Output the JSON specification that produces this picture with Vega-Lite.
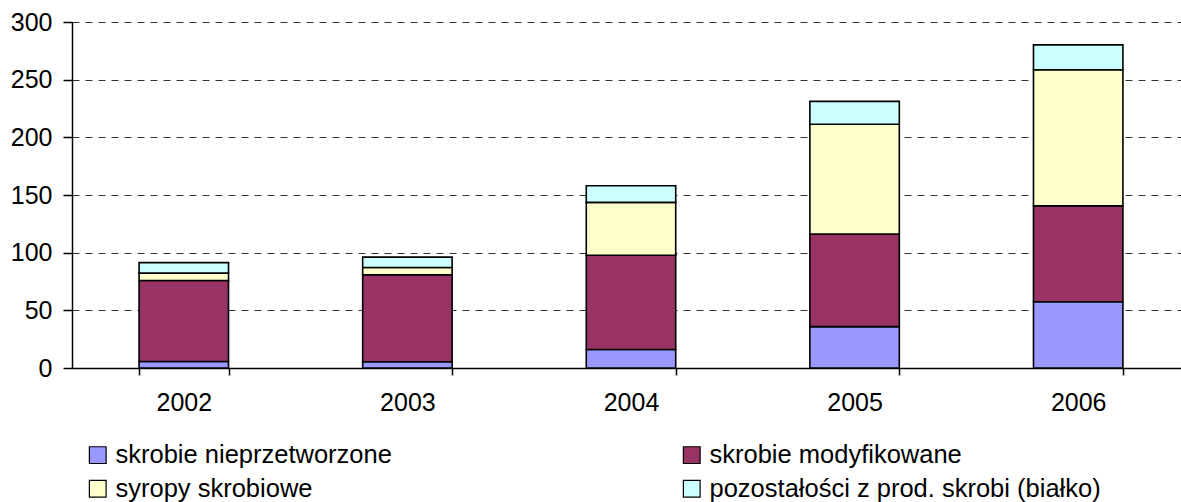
{
  "$schema": "https://vega.github.io/schema/vega-lite/v6.json",
  "width": 1109,
  "height": 346,
  "autosize": "none",
  "padding": {"left": 72, "top": 22, "right": 0, "bottom": 134},
  "background": "white",
  "config": {
    "view": {"stroke": null},
    "font": "Liberation Sans"
  },
  "data": {
    "values": [
      {"rok": "2002", "kategoria": "skrobie nieprzetworzone", "k": 1, "wartosc": 5.6},
      {"rok": "2002", "kategoria": "skrobie modyfikowane", "k": 2, "wartosc": 70.3},
      {"rok": "2002", "kategoria": "syropy skrobiowe", "k": 3, "wartosc": 6.4},
      {"rok": "2002", "kategoria": "pozostałości z prod. skrobi (białko)", "k": 4, "wartosc": 9.1},
      {"rok": "2003", "kategoria": "skrobie nieprzetworzone", "k": 1, "wartosc": 5.4},
      {"rok": "2003", "kategoria": "skrobie modyfikowane", "k": 2, "wartosc": 75.4},
      {"rok": "2003", "kategoria": "syropy skrobiowe", "k": 3, "wartosc": 6.3},
      {"rok": "2003", "kategoria": "pozostałości z prod. skrobi (białko)", "k": 4, "wartosc": 9.0},
      {"rok": "2004", "kategoria": "skrobie nieprzetworzone", "k": 1, "wartosc": 16.0},
      {"rok": "2004", "kategoria": "skrobie modyfikowane", "k": 2, "wartosc": 81.8},
      {"rok": "2004", "kategoria": "syropy skrobiowe", "k": 3, "wartosc": 45.8},
      {"rok": "2004", "kategoria": "pozostałości z prod. skrobi (białko)", "k": 4, "wartosc": 14.4},
      {"rok": "2005", "kategoria": "skrobie nieprzetworzone", "k": 1, "wartosc": 35.9},
      {"rok": "2005", "kategoria": "skrobie modyfikowane", "k": 2, "wartosc": 80.3},
      {"rok": "2005", "kategoria": "syropy skrobiowe", "k": 3, "wartosc": 95.1},
      {"rok": "2005", "kategoria": "pozostałości z prod. skrobi (białko)", "k": 4, "wartosc": 19.9},
      {"rok": "2006", "kategoria": "skrobie nieprzetworzone", "k": 1, "wartosc": 57.5},
      {"rok": "2006", "kategoria": "skrobie modyfikowane", "k": 2, "wartosc": 83.1},
      {"rok": "2006", "kategoria": "syropy skrobiowe", "k": 3, "wartosc": 118.0},
      {"rok": "2006", "kategoria": "pozostałości z prod. skrobi (białko)", "k": 4, "wartosc": 21.6}
    ]
  },
  "mark": {"type": "bar", "stroke": "black", "strokeWidth": 1.6},
  "encoding": {
    "x": {
      "field": "rok",
      "type": "nominal",
      "scale": {"paddingInner": 0.6, "paddingOuter": 0.3, "range": [0, 1118]},
      "axis": {
        "title": null,
        "labelAngle": 0,
        "labelFontSize": 25,
        "labelColor": "black",
        "labelPadding": 15,
        "domainColor": "black",
        "domainWidth": 1.5,
        "tickColor": "black",
        "tickWidth": 1.5,
        "tickSize": 7,
        "tickBand": "extent"
      }
    },
    "y": {
      "field": "wartosc",
      "type": "quantitative",
      "stack": "zero",
      "scale": {"domain": [0, 300], "nice": false},
      "axis": {
        "title": null,
        "values": [0, 50, 100, 150, 200, 250, 300],
        "labelFontSize": 25,
        "labelColor": "black",
        "labelPadding": 11,
        "domainColor": "black",
        "domainWidth": 1.5,
        "tickColor": "black",
        "tickWidth": 1.5,
        "tickSize": 9,
        "grid": true,
        "gridColor": "#333333",
        "gridDash": [7, 6],
        "gridWidth": 1
      }
    },
    "color": {
      "field": "kategoria",
      "type": "nominal",
      "sort": ["skrobie nieprzetworzone", "skrobie modyfikowane", "syropy skrobiowe", "pozostałości z prod. skrobi (białko)"],
      "scale": {
        "domain": ["skrobie nieprzetworzone", "skrobie modyfikowane", "syropy skrobiowe", "pozostałości z prod. skrobi (białko)"],
        "range": ["#9999FF", "#993366", "#FFFFCC", "#CCFFFF"]
      },
      "legend": {
        "title": null,
        "orient": "none",
        "legendX": 13,
        "legendY": 420,
        "direction": "horizontal",
        "columns": 2,
        "columnPadding": 287,
        "rowPadding": 7,
        "symbolType": "square",
        "symbolSize": 280,
        "symbolStrokeColor": "black",
        "symbolStrokeWidth": 1.2,
        "labelFontSize": 25.5,
        "labelColor": "black",
        "labelOffset": 5,
        "labelLimit": 500
      }
    },
    "order": {"field": "k", "type": "quantitative"}
  }
}
